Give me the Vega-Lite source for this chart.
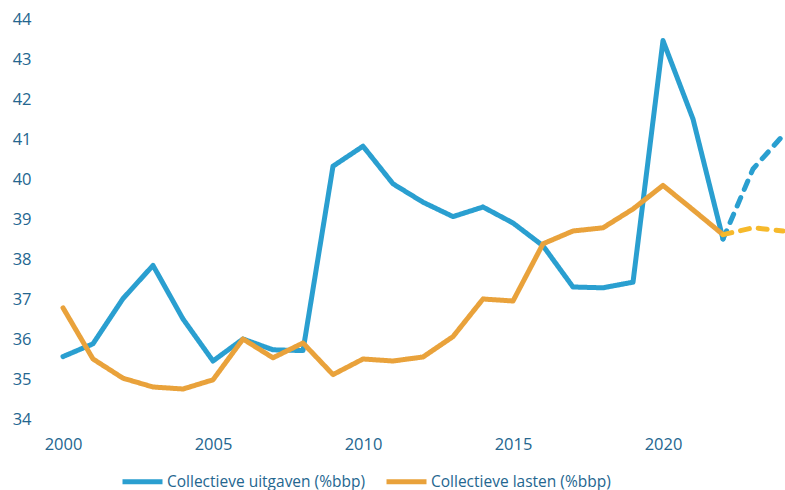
{
  "$schema": "https://vega.github.io/schema/vega-lite/v6.json",
  "width": 720,
  "height": 400,
  "autosize": {"type": "none"},
  "padding": {"left": 63, "top": 19, "right": 2, "bottom": 71},
  "background": "white",
  "config": {
    "view": {"stroke": null},
    "font": "Open Sans",
    "axis": {"grid": false, "domain": false, "ticks": false, "labelFont": "Open Sans", "labelFontSize": 16.5, "labelColor": "#24668F", "title": null}
  },
  "data": {
    "values": [
      {"year": 2000, "value": 35.56, "serie": "Collectieve uitgaven (%bbp)", "fase": "r"},
      {"year": 2001, "value": 35.88, "serie": "Collectieve uitgaven (%bbp)", "fase": "r"},
      {"year": 2002, "value": 37.01, "serie": "Collectieve uitgaven (%bbp)", "fase": "r"},
      {"year": 2003, "value": 37.84, "serie": "Collectieve uitgaven (%bbp)", "fase": "r"},
      {"year": 2004, "value": 36.5, "serie": "Collectieve uitgaven (%bbp)", "fase": "r"},
      {"year": 2005, "value": 35.45, "serie": "Collectieve uitgaven (%bbp)", "fase": "r"},
      {"year": 2006, "value": 36.0, "serie": "Collectieve uitgaven (%bbp)", "fase": "r"},
      {"year": 2007, "value": 35.73, "serie": "Collectieve uitgaven (%bbp)", "fase": "r"},
      {"year": 2008, "value": 35.71, "serie": "Collectieve uitgaven (%bbp)", "fase": "r"},
      {"year": 2009, "value": 40.32, "serie": "Collectieve uitgaven (%bbp)", "fase": "r"},
      {"year": 2010, "value": 40.82, "serie": "Collectieve uitgaven (%bbp)", "fase": "r"},
      {"year": 2011, "value": 39.88, "serie": "Collectieve uitgaven (%bbp)", "fase": "r"},
      {"year": 2012, "value": 39.42, "serie": "Collectieve uitgaven (%bbp)", "fase": "r"},
      {"year": 2013, "value": 39.06, "serie": "Collectieve uitgaven (%bbp)", "fase": "r"},
      {"year": 2014, "value": 39.3, "serie": "Collectieve uitgaven (%bbp)", "fase": "r"},
      {"year": 2015, "value": 38.9, "serie": "Collectieve uitgaven (%bbp)", "fase": "r"},
      {"year": 2016, "value": 38.33, "serie": "Collectieve uitgaven (%bbp)", "fase": "r"},
      {"year": 2017, "value": 37.3, "serie": "Collectieve uitgaven (%bbp)", "fase": "r"},
      {"year": 2018, "value": 37.28, "serie": "Collectieve uitgaven (%bbp)", "fase": "r"},
      {"year": 2019, "value": 37.42, "serie": "Collectieve uitgaven (%bbp)", "fase": "r"},
      {"year": 2020, "value": 43.46, "serie": "Collectieve uitgaven (%bbp)", "fase": "r"},
      {"year": 2021, "value": 41.5, "serie": "Collectieve uitgaven (%bbp)", "fase": "r"},
      {"year": 2022, "value": 38.5, "serie": "Collectieve uitgaven (%bbp)", "fase": "r"},
      {"year": 2022, "value": 38.5, "serie": "uitgaven raming", "fase": "p"},
      {"year": 2023, "value": 40.25, "serie": "uitgaven raming", "fase": "p"},
      {"year": 2024, "value": 41.09, "serie": "uitgaven raming", "fase": "p"},
      {"year": 2000, "value": 36.78, "serie": "Collectieve lasten (%bbp)", "fase": "r"},
      {"year": 2001, "value": 35.5, "serie": "Collectieve lasten (%bbp)", "fase": "r"},
      {"year": 2002, "value": 35.02, "serie": "Collectieve lasten (%bbp)", "fase": "r"},
      {"year": 2003, "value": 34.8, "serie": "Collectieve lasten (%bbp)", "fase": "r"},
      {"year": 2004, "value": 34.75, "serie": "Collectieve lasten (%bbp)", "fase": "r"},
      {"year": 2005, "value": 34.98, "serie": "Collectieve lasten (%bbp)", "fase": "r"},
      {"year": 2006, "value": 36.0, "serie": "Collectieve lasten (%bbp)", "fase": "r"},
      {"year": 2007, "value": 35.53, "serie": "Collectieve lasten (%bbp)", "fase": "r"},
      {"year": 2008, "value": 35.9, "serie": "Collectieve lasten (%bbp)", "fase": "r"},
      {"year": 2009, "value": 35.11, "serie": "Collectieve lasten (%bbp)", "fase": "r"},
      {"year": 2010, "value": 35.5, "serie": "Collectieve lasten (%bbp)", "fase": "r"},
      {"year": 2011, "value": 35.45, "serie": "Collectieve lasten (%bbp)", "fase": "r"},
      {"year": 2012, "value": 35.55, "serie": "Collectieve lasten (%bbp)", "fase": "r"},
      {"year": 2013, "value": 36.06, "serie": "Collectieve lasten (%bbp)", "fase": "r"},
      {"year": 2014, "value": 37.0, "serie": "Collectieve lasten (%bbp)", "fase": "r"},
      {"year": 2015, "value": 36.95, "serie": "Collectieve lasten (%bbp)", "fase": "r"},
      {"year": 2016, "value": 38.38, "serie": "Collectieve lasten (%bbp)", "fase": "r"},
      {"year": 2017, "value": 38.7, "serie": "Collectieve lasten (%bbp)", "fase": "r"},
      {"year": 2018, "value": 38.78, "serie": "Collectieve lasten (%bbp)", "fase": "r"},
      {"year": 2019, "value": 39.25, "serie": "Collectieve lasten (%bbp)", "fase": "r"},
      {"year": 2020, "value": 39.84, "serie": "Collectieve lasten (%bbp)", "fase": "r"},
      {"year": 2021, "value": 39.23, "serie": "Collectieve lasten (%bbp)", "fase": "r"},
      {"year": 2022, "value": 38.61, "serie": "Collectieve lasten (%bbp)", "fase": "r"},
      {"year": 2022, "value": 38.61, "serie": "lasten raming", "fase": "p"},
      {"year": 2023, "value": 38.78, "serie": "lasten raming", "fase": "p"},
      {"year": 2024, "value": 38.7, "serie": "lasten raming", "fase": "p"}
    ]
  },
  "mark": {"type": "line", "strokeWidth": 5, "strokeCap": "round", "strokeJoin": "round", "clip": false},
  "encoding": {
    "x": {
      "field": "year", "type": "quantitative",
      "scale": {"domain": [2000, 2024], "nice": false, "zero": false},
      "axis": {"values": [2000, 2005, 2010, 2015, 2020], "format": "d", "labelPadding": 17, "labelFlush": false}
    },
    "y": {
      "field": "value", "type": "quantitative",
      "scale": {"domain": [34, 44], "nice": false, "zero": false},
      "axis": {"values": [34, 35, 36, 37, 38, 39, 40, 41, 42, 43, 44], "labelPadding": 32}
    },
    "color": {
      "field": "serie", "type": "nominal",
      "scale": {
        "domain": ["Collectieve uitgaven (%bbp)", "Collectieve lasten (%bbp)", "uitgaven raming", "lasten raming"],
        "range": ["#2A9FD0", "#E9A23B", "#2A9FD0", "#F6B92B"]
      },
      "legend": {
        "values": ["Collectieve uitgaven (%bbp)", "Collectieve lasten (%bbp)"],
        "orient": "none", "legendX": 57, "legendY": 440, "direction": "horizontal",
        "title": null, "symbolType": "stroke", "symbolSize": 1600, "symbolStrokeWidth": 5,
        "symbolFillColor": null, "symbolDash": [1, 0],
        "labelFont": "Open Sans", "labelFontSize": 15.5, "labelColor": "#24668F", "labelOffset": 2,
        "labelLimit": 400, "columnPadding": 10, "symbolOffset": 0, "padding": 0
      }
    },
    "strokeDash": {
      "field": "fase", "type": "nominal",
      "scale": {"domain": ["r", "p"], "range": [[1, 0], [9, 9]]},
      "legend": null
    }
  }
}
